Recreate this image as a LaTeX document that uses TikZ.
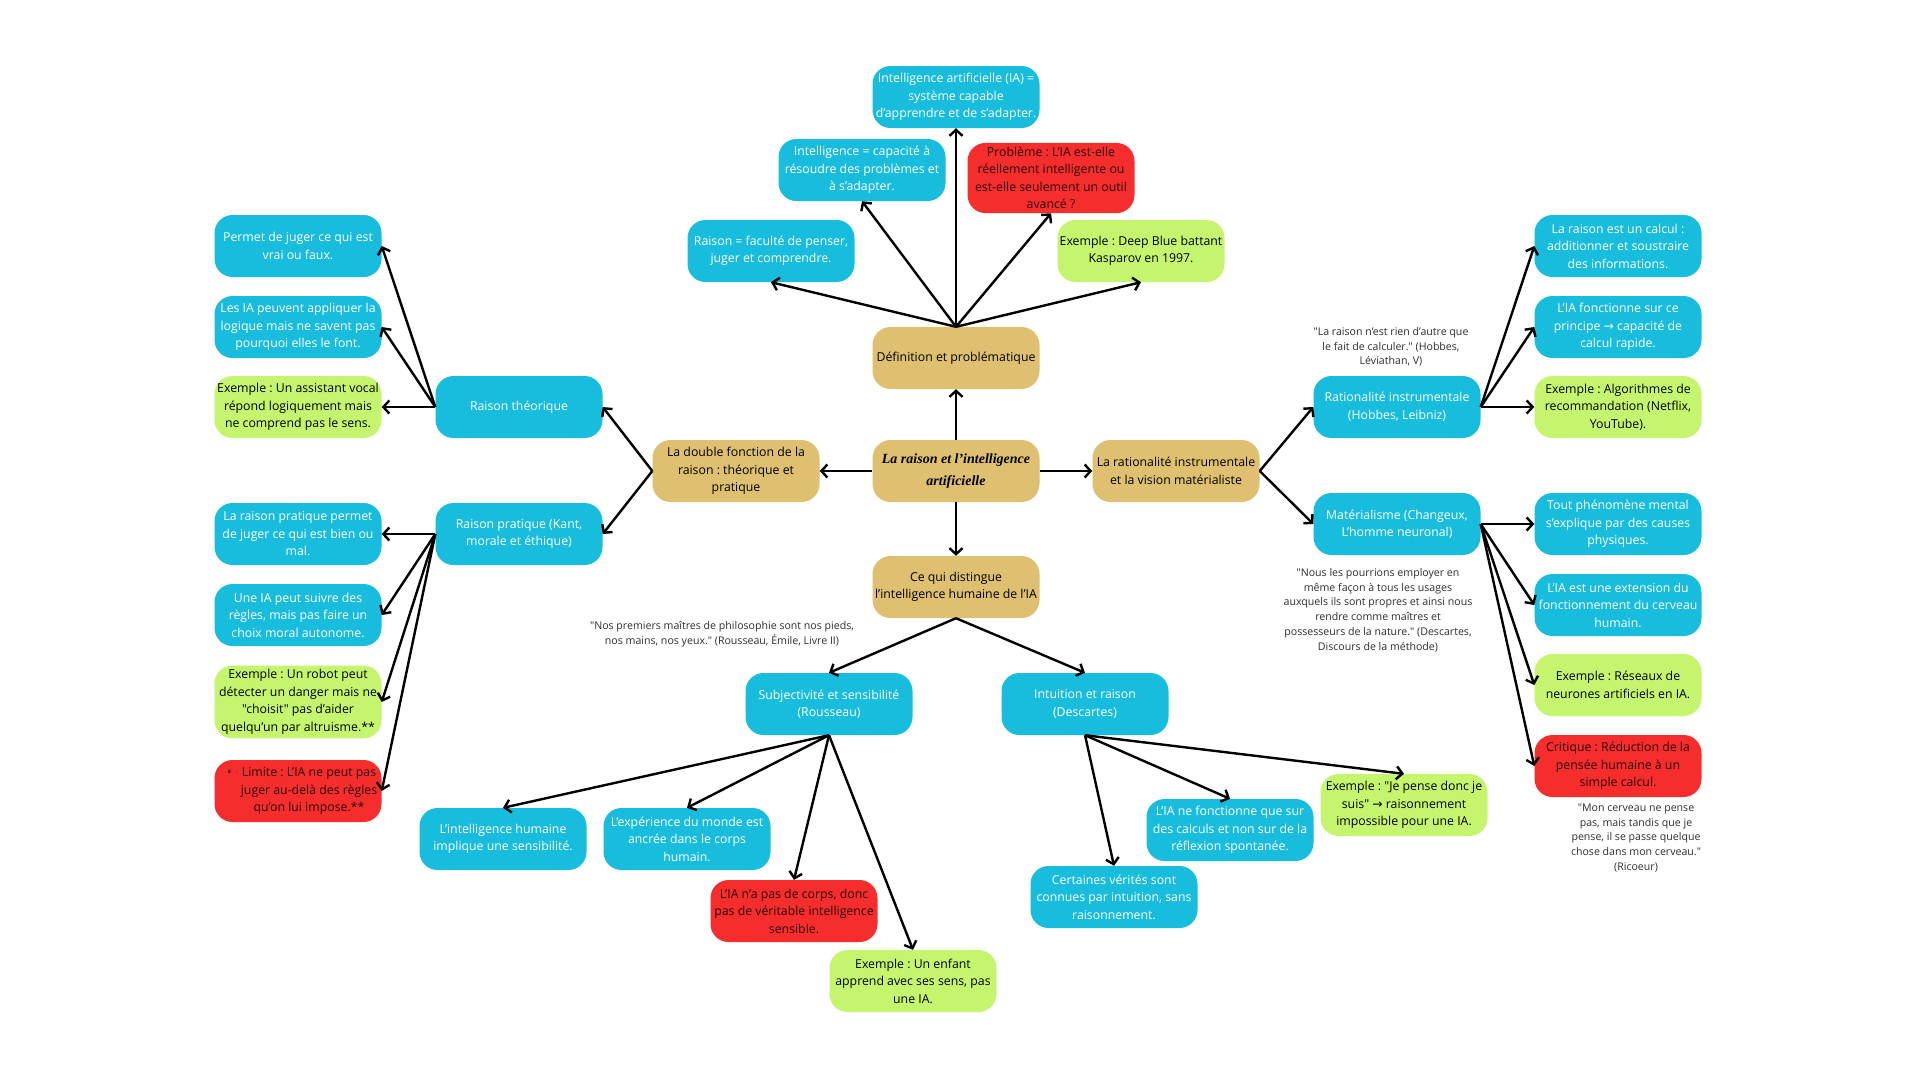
\documentclass[tikz,border=0pt]{standalone}
\usepackage{fontspec}
\setmainfont{Open Sans}[Ligatures=TeXOff]
\newfontfamily\arrowfont{DejaVu Sans}
\newfontfamily\titlefont{Liberation Serif}
\usetikzlibrary{arrows.meta}
\frenchspacing
\definecolor{cblue}{RGB}{24,188,220}
\definecolor{cgreen}{RGB}{197,245,110}
\definecolor{cred}{RGB}{245,45,45}
\definecolor{ctan}{RGB}{222,192,112}
\definecolor{cquote}{RGB}{45,45,45}
\definecolor{credtext}{RGB}{45,8,8}
\newcommand{\ar}{{\arrowfont →}}
\tikzset{
  box/.style={rectangle, rounded corners=18pt, minimum width=167pt, minimum height=62pt,
    inner xsep=1.5pt, inner ysep=4pt, align=center,
    font=\fontsize{12.3}{17.5}\selectfont},
  bluebox/.style={box, fill=cblue, text=white},
  greenbox/.style={box, fill=cgreen, text=black},
  redbox/.style={box, fill=cred, text=credtext},
  tanbox/.style={box, fill=ctan, text=black},
  quotetext/.style={align=center, text=cquote, inner sep=0pt, font=\fontsize{10.6}{14.8}\selectfont},
  arr/.style={-{Straight Barb[length=6pt,width=13pt]}, line width=2.4pt, black}
}
\begin{document}
\begin{tikzpicture}[x=1pt,y=-1pt]
\fill[white] (0,0) rectangle (1919,1080);
\useasboundingbox (0,0) rectangle (1919,1080);

% centre
\node[tanbox, font=\titlefont\bfseries\itshape\fontsize{14}{22}\selectfont] (center) at (956,471) {La raison et l’intelligence\\artificielle};
\node[tanbox] (def) at (956,358) {Définition et problématique};
\node[tanbox] (double) at (736,471) {La double fonction de la\\raison : théorique et\\pratique};
\node[tanbox] (ratvis) at (1176,471) {La rationalité instrumentale\\et la vision matérialiste};
\node[tanbox] (distingue) at (956,587) {Ce qui distingue\\l’intelligence humaine de l’IA};

% top
\node[bluebox] (ia) at (956,97) {Intelligence artificielle (IA) =\\système capable\\d’apprendre et de s’adapter.};
\node[bluebox] (intel) at (862,170) {Intelligence = capacité à\\résoudre des problèmes et\\à s’adapter.};
\node[redbox] (probleme) at (1051,178) {Problème : L’IA est-elle\\réellement intelligente ou\\est-elle seulement un outil\\avancé ?};
\node[bluebox] (raisonfac) at (771,251) {Raison = faculté de penser,\\juger et comprendre.};
\node[greenbox] (deepblue) at (1141,251) {Exemple : Deep Blue battant\\Kasparov en 1997.};

% left
\node[bluebox] (theo) at (519,407) {Raison théorique};
\node[bluebox] (prat) at (519,534) {Raison pratique (Kant,\\morale et éthique)};
\node[bluebox] (permet) at (298,246) {Permet de juger ce qui est\\vrai ou faux.};
\node[bluebox] (lesia) at (298,327) {Les IA peuvent appliquer la\\logique mais ne savent pas\\pourquoi elles le font.};
\node[greenbox] (assist) at (298,407) {Exemple : Un assistant vocal\\répond logiquement mais\\ne comprend pas le sens.};
\node[bluebox] (pratperm) at (298,534) {La raison pratique permet\\de juger ce qui est bien ou\\mal.};
\node[bluebox] (uneia) at (298,615) {Une IA peut suivre des\\règles, mais pas faire un\\choix moral autonome.};
\node[greenbox] (robot) at (298,702) {Exemple : Un robot peut\\détecter un danger mais ne\\"choisit" pas d’aider\\quelqu’un par altruisme.**};
\node[redbox] (limite) at (298,791) {\hspace*{22pt}\llap{\textbullet\hspace{10pt}}Limite : L’IA ne peut pas\\\hspace*{22pt}juger au-delà des règles\\\hspace*{22pt}qu’on lui impose.**};

% right
\node[bluebox] (ratinst) at (1397,407) {Rationalité instrumentale\\(Hobbes, Leibniz)};
\node[bluebox] (mater) at (1397,524) {Matérialisme (Changeux,\\L’homme neuronal)};
\node[bluebox] (calcul) at (1618,246) {La raison est un calcul :\\additionner et soustraire\\des informations.};
\node[bluebox] (principe) at (1618,327) {L’IA fonctionne sur ce\\principe \ar{} capacité de\\calcul rapide.};
\node[greenbox] (algo) at (1618,407) {Exemple : Algorithmes de\\recommandation (Netflix,\\YouTube).};
\node[bluebox] (phenom) at (1618,524) {Tout phénomène mental\\s’explique par des causes\\physiques.};
\node[bluebox] (extension) at (1618,605) {L’IA est une extension du\\fonctionnement du cerveau\\humain.};
\node[greenbox] (reseaux) at (1618,685) {Exemple : Réseaux de\\neurones artificiels en IA.};
\node[redbox] (critique) at (1618,766) {Critique : Réduction de la\\pensée humaine à un\\simple calcul.};

% bottom
\node[bluebox] (subj) at (829,704) {Subjectivité et sensibilité\\(Rousseau)};
\node[bluebox] (intuition) at (1085,704) {Intuition et raison\\(Descartes)};
\node[bluebox] (sensib) at (503,839) {L’intelligence humaine\\implique une sensibilité.};
\node[bluebox] (experience) at (687,839) {L’expérience du monde est\\ancrée dans le corps\\humain.};
\node[redbox] (corps) at (794,911) {L’IA n’a pas de corps, donc\\pas de véritable intelligence\\sensible.};
\node[greenbox] (enfant) at (913,981) {Exemple : Un enfant\\apprend avec ses sens, pas\\une IA.};
\node[bluebox] (verites) at (1114,897) {Certaines vérités sont\\connues par intuition, sans\\raisonnement.};
\node[bluebox] (calculs) at (1230,830) {L’IA ne fonctionne que sur\\des calculs et non sur de la\\réflexion spontanée.};
\node[greenbox] (jepense) at (1404,805) {Exemple : "Je pense donc je\\suis" \ar{} raisonnement\\impossible pour une IA.};

% quotes
\node[quotetext] (qhobbes) at (1391,347) {"La raison n’est rien d’autre que\\le fait de calculer." (Hobbes,\\Léviathan, V)};
\node[quotetext] (qdescartes) at (1378,610) {"Nous les pourrions employer en\\même façon à tous les usages\\auxquels ils sont propres et ainsi nous\\rendre comme maîtres et\\possesseurs de la nature." (Descartes,\\Discours de la méthode)};
\node[quotetext] (qricoeur) at (1636,838) {"Mon cerveau ne pense\\pas, mais tandis que je\\pense, il se passe quelque\\chose dans mon cerveau."\\(Ricoeur)};
\node[quotetext] (qrousseau) at (722,634) {"Nos premiers maîtres de philosophie sont nos pieds,\\nos mains, nos yeux." (Rousseau, Émile, Livre II)};

% connectors
\draw[arr] (center.north) -- (def.south);
\draw[arr] (center.west) -- (double.east);
\draw[arr] (center.east) -- (ratvis.west);
\draw[arr] (center.south) -- (distingue.north);

\foreach \t in {raisonfac,intel,ia,probleme,deepblue}
  \draw[arr] (def.north) -- (\t.south);

\draw[arr] (double.west) -- (theo.east);
\draw[arr] (double.west) -- (prat.east);
\foreach \t in {permet,lesia,assist}
  \draw[arr] (theo.west) -- (\t.east);
\foreach \t in {pratperm,uneia,robot,limite}
  \draw[arr] (prat.west) -- (\t.east);

\draw[arr] (ratvis.east) -- (ratinst.west);
\draw[arr] (ratvis.east) -- (mater.west);
\foreach \t in {calcul,principe,algo}
  \draw[arr] (ratinst.east) -- (\t.west);
\foreach \t in {phenom,extension,reseaux,critique}
  \draw[arr] (mater.east) -- (\t.west);

\draw[arr] (distingue.south) -- (subj.north);
\draw[arr] (distingue.south) -- (intuition.north);
\foreach \t in {sensib,experience,corps,enfant}
  \draw[arr] (subj.south) -- (\t.north);
\foreach \t in {verites,calculs,jepense}
  \draw[arr] (intuition.south) -- (\t.north);
\end{tikzpicture}
\end{document}
